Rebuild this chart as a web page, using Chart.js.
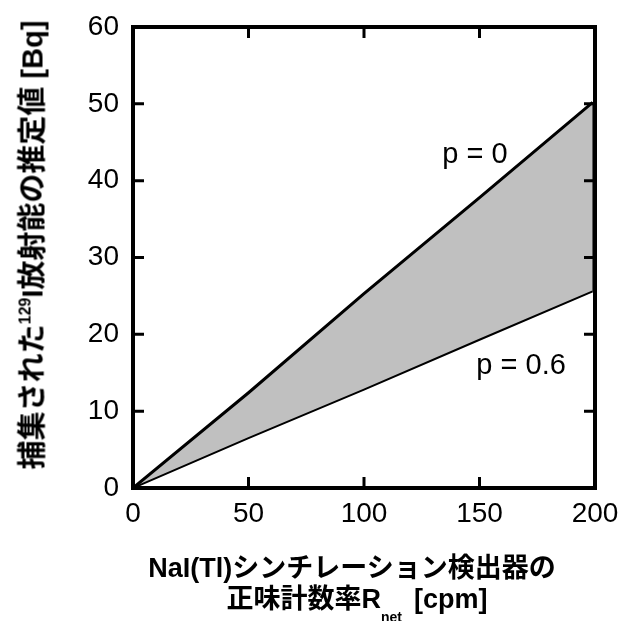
<!DOCTYPE html>
<html>
<head>
<meta charset="utf-8">
<script src="https://cdn.jsdelivr.net/npm/chart.js@4.4.1/dist/chart.umd.min.js"></script>
<style>
  html, body { margin:0; padding:0; background:#fff; }
  #wrap { position:relative; width:619px; height:621px; }
  canvas { position:absolute; left:0; top:0; }
  .ttl { position:absolute; white-space:nowrap; font-weight:bold; color:#000; line-height:1;
         font-family:"Liberation Sans", "Noto Sans CJK JP", sans-serif; }
  #ytitle { left:33px; top:245px; font-size:29px; transform:translate(-50%,-50%) rotate(-90deg); }
  #ytitle sup { font-size:16px; vertical-align:0; position:relative; top:-12px; }
  #xtitle1 { left:352px; top:568px; font-size:27px; transform:translate(-50%,-50%); }
  #xtitle2 { left:357px; top:599px; font-size:27px; transform:translate(-50%,-50%); }
  #xtitle2 sub { font-size:14px; vertical-align:0; position:relative; top:14px; margin-right:12px; }
</style>
</head>
<body>
<div id="wrap">
  <canvas id="c" width="619" height="621"></canvas>
  <div class="ttl" id="ytitle">捕集された<sup>129</sup>I放射能の推定値 [Bq]</div>
  <div class="ttl" id="xtitle1">NaI(Tl)シンチレーション検出器の</div>
  <div class="ttl" id="xtitle2">正味計数率R<sub>net</sub>[cpm]</div>
</div>
<script>
// ─── Data ───
const rateX   = [0, 50, 100, 150, 199];          // R_net [cpm]
const upperP0 = [0, 12.4, 25.3, 37.8, 50.2];     // p = 0
const lowerP6 = [0, 6.5, 12.8, 19.3, 25.6];      // p = 0.6
const xTicks  = [0, 50, 100, 150, 200];
const yTicks  = [0, 10, 20, 30, 40, 50, 60];
const notes   = [
  { text: 'p = 0',   x: 148, y: 43.3 },
  { text: 'p = 0.6', x: 168, y: 15.9 },
];

const pts = (xs, ys) => xs.map((x, i) => ({ x, y: ys[i] }));
const last = rateX.length - 1;
const TICK_FONT = { family: "'Liberation Sans', Arial, sans-serif", size: 28 };

// frame + inward ticks on all four sides
const framePlugin = {
  id: 'frame',
  afterDraw(chart) {
    const { ctx, chartArea: a, scales: { x, y } } = chart;
    ctx.save();
    ctx.strokeStyle = '#000';
    ctx.lineWidth = 3;
    const len = 11;
    xTicks.slice(1, -1).forEach(v => {
      const px = x.getPixelForValue(v);
      ctx.beginPath();
      ctx.moveTo(px, a.bottom); ctx.lineTo(px, a.bottom - len);
      ctx.moveTo(px, a.top); ctx.lineTo(px, a.top + len);
      ctx.stroke();
    });
    yTicks.slice(1, -1).forEach(v => {
      const py = y.getPixelForValue(v);
      ctx.beginPath();
      ctx.moveTo(a.left, py); ctx.lineTo(a.left + len, py);
      ctx.moveTo(a.right, py); ctx.lineTo(a.right - len, py);
      ctx.stroke();
    });
    ctx.lineWidth = 4;
    ctx.strokeRect(a.left, a.top, a.right - a.left, a.bottom - a.top);
    // curve labels
    ctx.fillStyle = '#000';
    ctx.font = "29px 'Liberation Sans', Arial, sans-serif";
    ctx.textAlign = 'center';
    ctx.textBaseline = 'middle';
    notes.forEach(n => ctx.fillText(n.text, x.getPixelForValue(n.x), y.getPixelForValue(n.y)));
    ctx.restore();
  }
};

new Chart(document.getElementById('c'), {
  type: 'scatter',
  data: {
    datasets: [
      { data: pts(rateX, upperP0), showLine: true, borderColor: '#000', borderWidth: 3,
        pointRadius: 0, fill: false },
      { data: pts(rateX, lowerP6), showLine: true, borderColor: '#000', borderWidth: 2,
        pointRadius: 0, fill: '-1', backgroundColor: '#c0c0c0' },
      { data: [{ x: rateX[last], y: upperP0[last] }, { x: rateX[last], y: lowerP6[last] }],
        showLine: true, borderColor: '#000', borderWidth: 2, pointRadius: 0, fill: false },
    ]
  },
  options: {
    responsive: false,
    animation: false,
    layout: { padding: { top: 27, right: 24, left: 0, bottom: 0 } },
    plugins: { legend: { display: false }, tooltip: { enabled: false } },
    scales: {
      x: {
        type: 'linear', min: 0, max: 200,
        afterBuildTicks: s => { s.ticks = xTicks.map(v => ({ value: v })); },
        afterFit: s => { s.height = 133; s.paddingLeft = 0; s.paddingRight = 0; },
        grid: { display: false, drawTicks: false },
        border: { display: false },
        ticks: { color: '#000', font: TICK_FONT, padding: 9, maxRotation: 0 }
      },
      y: {
        type: 'linear', min: 0, max: 60,
        afterBuildTicks: s => { s.ticks = yTicks.map(v => ({ value: v })); },
        afterFit: s => { s.width = 133; s.paddingTop = 0; s.paddingBottom = 0; },
        grid: { display: false, drawTicks: false },
        border: { display: false },
        ticks: { color: '#000', font: TICK_FONT, padding: 14 }
      }
    }
  },
  plugins: [framePlugin]
});
</script>
</body>
</html>
